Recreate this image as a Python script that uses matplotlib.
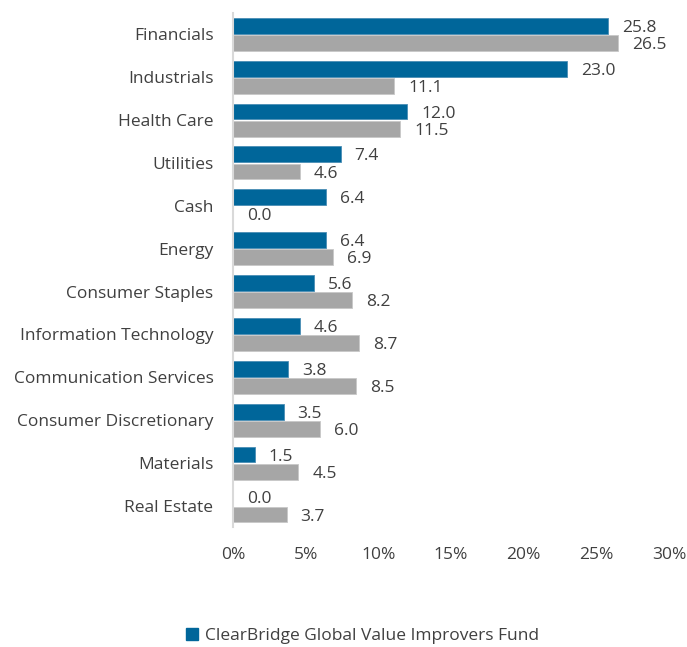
import matplotlib
matplotlib.use("Agg")
import matplotlib.pyplot as plt
import numpy as np
from matplotlib.patches import Patch
import matplotlib.transforms as mtransforms

categories = ["Financials", "Industrials", "Health Care", "Utilities", "Cash", "Energy",
              "Consumer Staples", "Information Technology", "Communication Services",
              "Consumer Discretionary", "Materials", "Real Estate"]
fund = [25.8, 23.0, 12.0, 7.4, 6.4, 6.4, 5.6, 4.6, 3.8, 3.5, 1.5, 0.0]
benchmark = [26.5, 11.1, 11.5, 4.6, 0.0, 6.9, 8.2, 8.7, 8.5, 6.0, 4.5, 3.7]
xticks = [0, 5, 10, 15, 20, 25, 30]
fund_name = "ClearBridge Global Value Improvers Fund"

plt.rcParams['font.family'] = ['Open Sans', 'DejaVu Sans']
text_color = "#404040"
blue = "#00669A"
gray = "#A6A6A6"
fs = 12.5

fig = plt.figure(figsize=(6.87, 6.47), dpi=100)
ax = fig.add_axes([0.339, 0.185, 0.635, 0.795])

y = np.arange(len(categories))
h = 0.37
off = 0.2
ax.barh(y - off, fund, height=h, color=blue, edgecolor="#4A8DB5", linewidth=0.6, zorder=2)
ax.barh(y + off, benchmark, height=h, color=gray, edgecolor="#C8C8C8", linewidth=0.6, zorder=2)

trans = mtransforms.offset_copy(ax.transData, fig=fig, x=10, y=-1.5, units='points')
for yi, v in zip(y, fund):
    ax.text(v, yi - off, f"{v:.1f}", transform=trans, va='center', ha='left',
            fontsize=fs, color=text_color)
for yi, v in zip(y, benchmark):
    ax.text(v, yi + off, f"{v:.1f}", transform=trans, va='center', ha='left',
            fontsize=fs, color=text_color)

ax.set_xlim(0, 30)
ax.set_ylim(len(categories) - 0.5, -0.5)
ax.set_yticks(y)
ax.set_yticklabels(categories, fontsize=fs, color=text_color)
ax.set_xticks(xticks)
ax.set_xticklabels([f"{t}%" for t in xticks], fontsize=fs, color=text_color)
ax.tick_params(axis='both', length=0)
ax.tick_params(axis='y', pad=14)
ax.tick_params(axis='x', pad=14)
for s in ["top", "right", "bottom"]:
    ax.spines[s].set_visible(False)
ax.spines["left"].set_color("#D9D9D9")
ax.spines["left"].set_linewidth(1.5)

fig.legend(handles=[Patch(facecolor=blue, edgecolor=blue)], labels=[fund_name],
           loc='center', bbox_to_anchor=(0.528, 0.017), frameon=False, fontsize=fs,
           handlelength=0.7, handleheight=0.7, handletextpad=0.4, labelcolor=text_color)

fig.savefig("out.png", dpi=100)
